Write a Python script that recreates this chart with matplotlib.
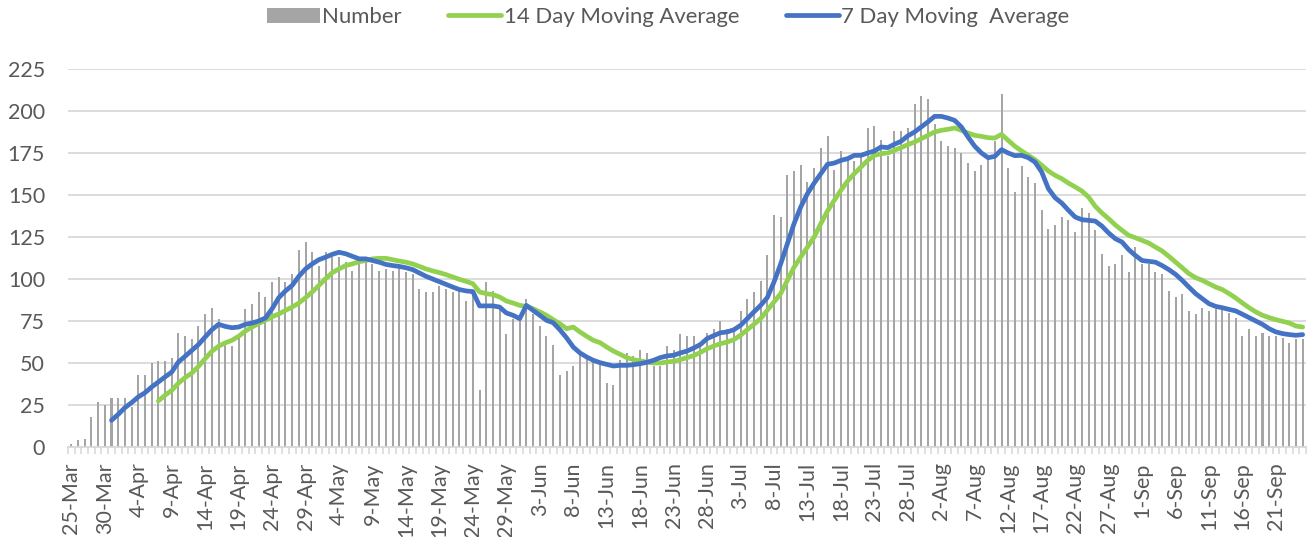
import numpy as np
import pandas as pd
import matplotlib
matplotlib.use("Agg")
import matplotlib.pyplot as plt
from matplotlib.patches import Patch
from matplotlib.lines import Line2D

plt.rcParams.update({"font.family": ["Lato", "DejaVu Sans"], "font.size": 15.5})

# daily counts from 25-Mar
start_date = "2020-03-25"
number = [
    2, 4, 5, 18, 27, 25, 29, 29, 29, 24, 43, 43, 50, 51, 51, 53, 68, 66, 64, 72,
    79, 83, 76, 63, 60, 67, 82, 85, 92, 89, 98, 101,
    98, 103, 117, 122, 116, 108, 116, 113, 113, 110, 105, 109, 111, 109, 105, 106,
    105, 108, 104, 103, 94, 92, 92, 96, 94, 92, 93, 87, 93, 34, 98,
    93, 82, 67, 76, 78, 88, 79, 72, 66, 61, 43, 45, 48, 55, 55, 51, 49, 38, 37, 52,
    56, 54, 58, 56, 48, 48, 60, 58, 67, 66, 66,
    62, 68, 70, 75, 70, 70, 81, 88, 92, 99, 114, 138, 137, 162, 164, 168, 158, 166,
    178, 185, 165, 176, 172, 170, 175, 190, 191, 183, 173, 188, 188,
    190, 204, 209, 207, 192, 182, 179, 178, 175, 169, 164, 168, 172, 182, 210, 166,
    152, 167, 161, 157, 141, 130, 132, 137, 135, 128, 142, 139, 129, 115, 108, 109,
    114, 104, 119, 109, 109, 104, 103, 93, 89, 91, 81, 79, 83, 81, 82, 82, 80, 77,
    66, 70, 66, 68, 66, 66, 65, 62, 64, 64,
]

# 7 day moving average, first value on day index 6
ma7_start = 6
ma7 = [
    15.9, 19.4, 23.4, 26.4, 29.8, 32.3, 35.7, 38.7, 41.7, 44.6, 50.6, 54, 57.5, 61,
    65.5, 69.8, 73, 71.8, 71, 71.4, 73, 73.8, 75, 76.8, 82.3, 88.9,
    92.9, 96.2, 101.6, 106, 109, 111.5, 113, 114.7, 115.9, 115, 113.5, 112, 112, 111,
    110, 108.7, 108, 107.5, 106.7, 105.6, 103.6, 101.6, 100, 98.4, 96.8, 95.2, 93.7,
    92.9, 92.5, 84, 84,
    84, 83.3, 79.8, 78.4, 76.4, 84.3, 81.3, 78.4, 75.4, 74, 69.8, 65, 59.5, 56, 53.6,
    51.6, 50.2, 49.2, 48.2, 48.6, 48.6, 49, 49.6, 50.4, 51.6, 53.2, 54.2, 54.6, 56,
    57.1, 58.9, 61,
    64.5, 66.3, 68, 68.5, 69.8, 72.4, 76.4, 80.4, 84.3, 88.9, 98.2, 109, 121, 133,
    142.9, 150.8, 157.1, 162.7, 168.3, 169, 170.6, 171.6, 173.6, 173.6, 175, 176.2,
    178.6, 178.2, 180.2, 182, 185.2,
    187.5, 190.5, 193.5, 196.8, 196.8, 195.8, 194.4, 190.5, 184.5, 179, 175, 172.2,
    173, 177, 175, 173.4, 173.6, 172.2, 169.6, 163.7, 153.8, 148.4, 145.2, 140.9,
    136.9, 135.3, 134.9, 134.5, 131.5, 127.4, 124,
    122, 117.5, 114, 111, 110.5, 110, 108, 105.6, 102.8, 99.2, 95.2, 91.3, 88.3, 85.3,
    83.7, 82.9, 81.9, 81, 79, 77, 75, 73, 70.4, 68.5, 67.5, 66.9, 66.5, 66.9,
]

# 14 day moving average, first value on day index 13
ma14_start = 13
ma14 = [
    27.4, 30.8, 33.7, 38, 41.3, 44, 48, 52.6, 57, 60, 62, 63.5, 65.9, 69, 71.4, 73.5,
    75.5, 77.5, 79.2,
    81.3, 83.3, 85.7, 88.9, 92.3, 96.2, 100.2, 103.8, 106, 108, 109, 110.3, 111, 112,
    112.3, 112.3, 111.5, 110.7, 110, 109, 107.5, 106, 104.8, 103.8, 102.6, 101.2,
    99.8, 98.6, 97.2, 92.3, 91.3,
    90.7, 89.3, 86.9, 85.7, 84.3, 83.7, 82.3, 80.4, 78.4, 75.8, 73.4, 70.4, 71.4,
    68.5, 65.9, 63.5, 62.1, 59.5, 57.1, 55.2, 53.2, 52, 51.2, 50.6, 50, 50, 50.6, 51,
    52, 53.2, 54.4, 56.3,
    58.5, 60.1, 61.5, 62.5, 63.9, 66.5, 69.8, 73, 76.4, 81.3, 86.3, 91.3, 99.2, 107.1,
    113, 119, 125, 133, 140.5, 146.8, 152.8, 158.3, 162.7, 166.7, 170.6, 173.6, 174.6,
    175, 176.6, 178.2, 180,
    181.5, 183.5, 185.5, 187.5, 188.5, 189.1, 189.9, 188.5, 186.9, 185.5, 184.9,
    184.1, 183.9, 186.1, 182.5, 179, 176.2, 173.6, 171, 167.7, 164.3, 161.7, 159.7,
    157.1, 154.8, 152.4, 148.8, 143.3, 139.3, 135.9, 132.2,
    129, 126, 124.6, 123, 121.4, 119, 116.7, 113.5, 110.1, 106.7, 103.2, 100.8, 99.2,
    97.2, 95.2, 93.7, 91.3, 88.7, 85.7, 82.9, 80.4, 78.4, 77, 75.8, 74.8, 73.8, 72,
    71.4,
]

legend_labels = ["Number", "14 Day Moving Average", "7 Day Moving  Average"]

bar_col = "#A5A5A5"
green = "#92D050"
blue = "#4472C4"
text_col = "#595959"
grid_col = "#D9D9D9"

dates = pd.date_range(start_date, periods=len(number))
tick_labels = [f"{d.day}-{d.strftime('%b')}" for d in dates]
x = np.arange(len(number))

W, H = 1309, 537
fig = plt.figure(figsize=(W / 100, H / 100), dpi=100)
ax = fig.add_axes([68 / W, (H - 447) / H, (1306 - 68) / W, (447 - 69) / H])

ax.bar(x, number, width=0.3, color=bar_col, zorder=2)
ax.plot(x[ma14_start:ma14_start + len(ma14)], ma14, color=green, lw=3.4,
        solid_capstyle="round", solid_joinstyle="round", zorder=3)
ax.plot(x[ma7_start:ma7_start + len(ma7)], ma7, color=blue, lw=3.4,
        solid_capstyle="round", solid_joinstyle="round", zorder=4)

ax.set_xlim(-0.5, len(number) - 0.5)
ax.set_ylim(0, 225)
ax.set_yticks(np.arange(0, 226, 25))
ax.grid(axis="y", color=grid_col, lw=1.3, zorder=0)
ax.set_axisbelow(True)

for s in ["top", "right", "left"]:
    ax.spines[s].set_visible(False)
ax.spines["bottom"].set_color(grid_col)
ax.spines["bottom"].set_linewidth(1.3)

ax.set_xticks(x[::5])
ax.set_xticklabels(tick_labels[::5], rotation=90, va="top", ha="center")
ax.set_xticks(np.arange(-0.5, len(number), 1), minor=True)
ax.tick_params(axis="x", which="major", length=0, pad=11, colors=text_col)
ax.tick_params(axis="x", which="minor", length=5, width=1.2, color=grid_col)
ax.tick_params(axis="y", length=0, pad=16.5, colors=text_col)

handles = [
    Patch(facecolor=bar_col, edgecolor="none"),
    Line2D([], [], color=green, lw=3.4, solid_capstyle="round"),
    Line2D([], [], color=blue, lw=3.4, solid_capstyle="round"),
]
fig.legend(handles, legend_labels, loc="center", bbox_to_anchor=(668 / W, 1 - 17 / H),
           ncol=3, frameon=False, fontsize=15.9, handlelength=2.4, handletextpad=0.12,
           columnspacing=2.1, labelcolor=text_col)

fig.savefig("out.png", dpi=100)
